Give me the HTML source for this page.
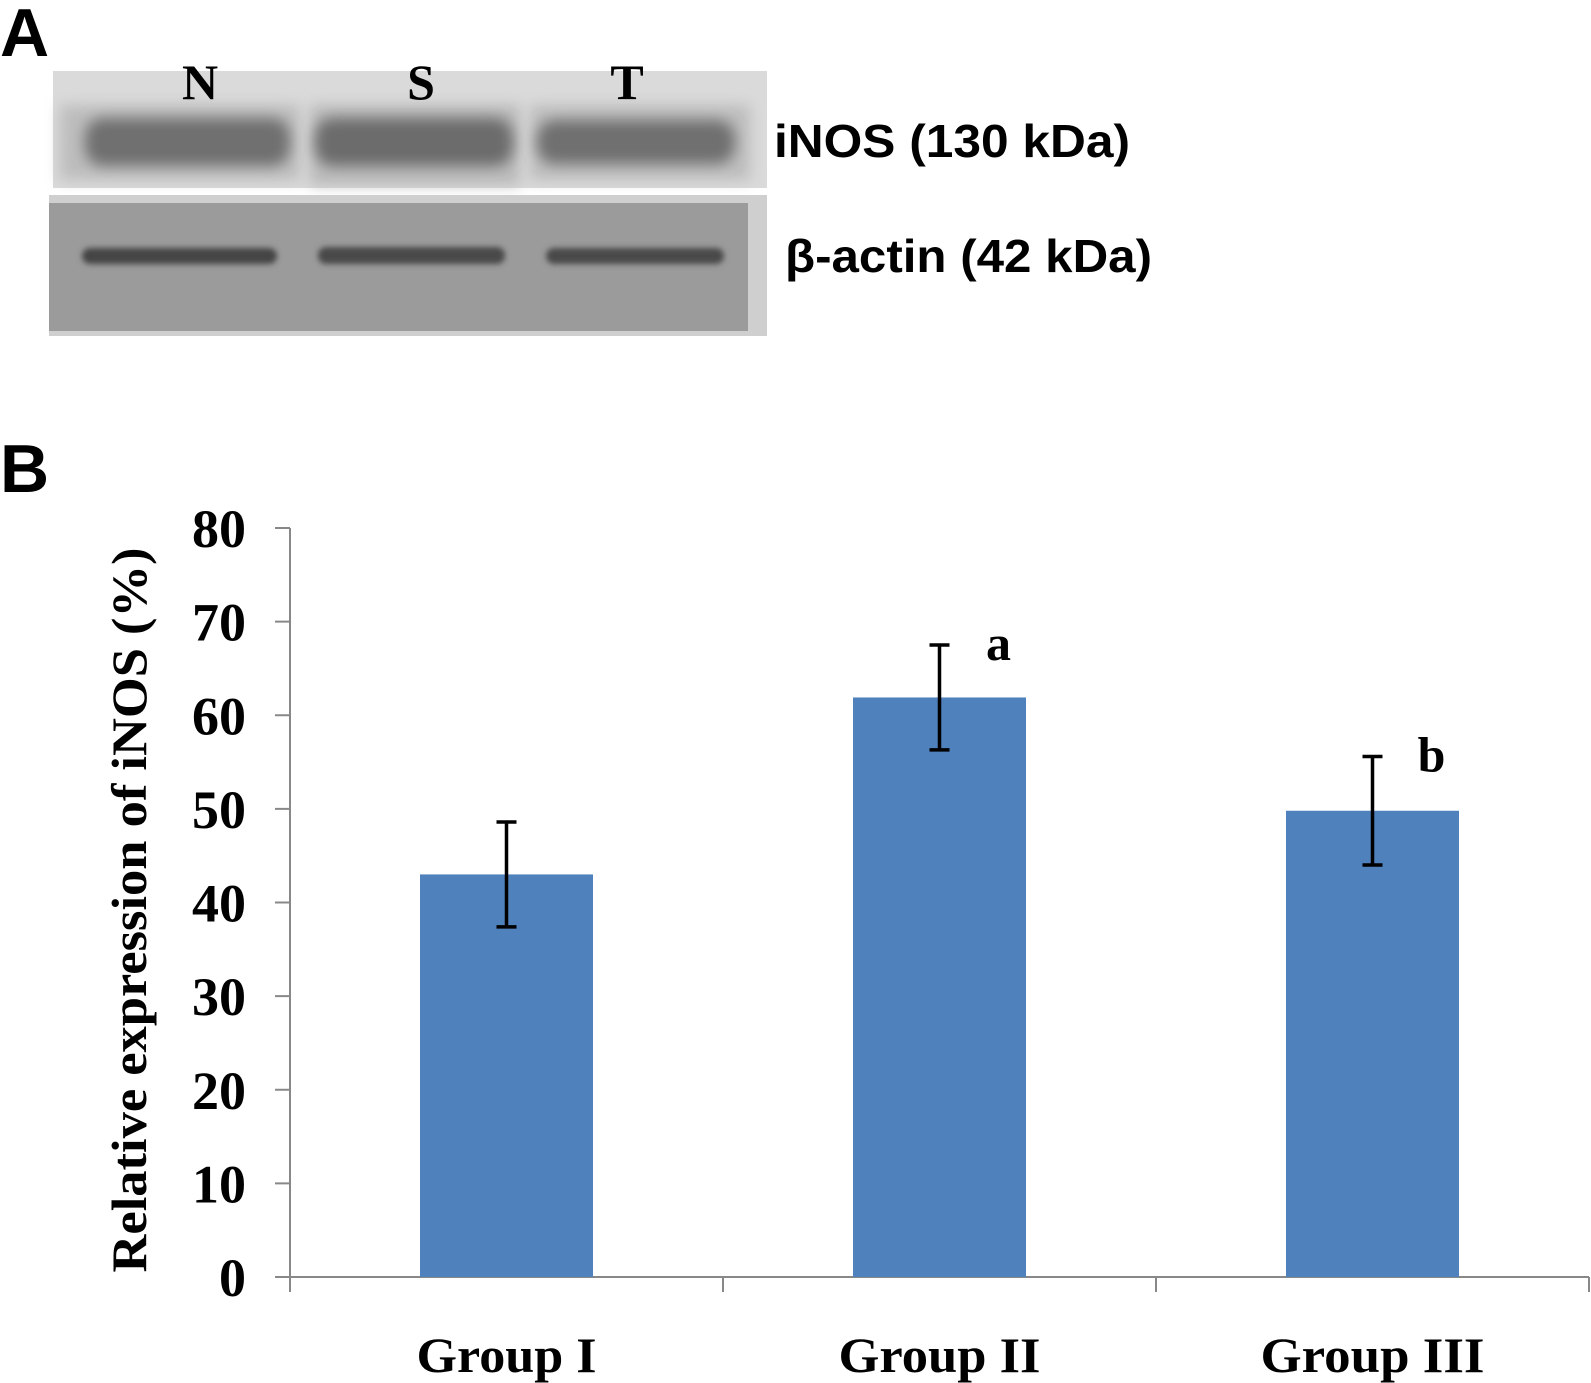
<!DOCTYPE html>
<html><head><meta charset="utf-8"><style>
html,body{margin:0;padding:0;background:#fff;}
svg{display:block;}
</style></head><body>
<svg id="fig" width="1591" height="1383" viewBox="0 0 1591 1383" xmlns="http://www.w3.org/2000/svg">
<defs>
<filter id="blur8" x="-20%" y="-50%" width="140%" height="200%"><feGaussianBlur stdDeviation="7"/></filter>
<filter id="blur3" x="-20%" y="-50%" width="140%" height="200%"><feGaussianBlur stdDeviation="3"/></filter>
</defs>
<text x="0" y="56" font-family="Liberation Sans, sans-serif" font-weight="bold" font-size="68">A</text>
<text x="0" y="492" font-family="Liberation Sans, sans-serif" font-weight="bold" font-size="68">B</text>

<g>
<rect x="53" y="71" width="714" height="117" fill="#dadada"/>
<rect x="60" y="105" width="240" height="75" fill="#bdbdbd" filter="url(#blur8)"/>
<rect x="310" y="105" width="210" height="80" fill="#bababa" filter="url(#blur8)"/>
<rect x="530" y="105" width="220" height="75" fill="#bdbdbd" filter="url(#blur8)"/>
<rect x="85" y="118" width="205" height="48" rx="18" fill="#6f6f6f" filter="url(#blur8)"/>
<rect x="315" y="118" width="198" height="48" rx="18" fill="#6c6c6c" filter="url(#blur8)"/>
<rect x="537" y="120" width="198" height="44" rx="18" fill="#6f6f6f" filter="url(#blur8)"/>
</g>
<g>
<rect x="49" y="195" width="718" height="141" fill="#cfcfcf"/>
<rect x="49" y="203" width="699" height="128" fill="#9b9b9b"/>
<rect x="82" y="248" width="195" height="16" rx="8" fill="#444" filter="url(#blur3)"/>
<rect x="318" y="247" width="187" height="17" rx="8" fill="#484848" filter="url(#blur3)"/>
<rect x="546" y="248" width="178" height="16" rx="8" fill="#484848" filter="url(#blur3)"/>
</g>
<g font-family="Liberation Serif, serif" font-weight="bold" font-size="50" text-anchor="middle">
<text x="200" y="99">N</text>
<text x="421" y="99">S</text>
<text x="627" y="99">T</text>
</g>
<text x="774" y="157" font-family="Liberation Sans, sans-serif" font-weight="bold" font-size="46" textLength="356" lengthAdjust="spacingAndGlyphs">iNOS (130 kDa)</text>
<text x="785" y="272" font-family="Liberation Sans, sans-serif" font-weight="bold" font-size="46" textLength="367" lengthAdjust="spacingAndGlyphs">β-actin (42 kDa)</text>

<g id="chart"></g>
</svg>
<script>
const categories = ["Group I", "Group II", "Group III"];
const values = [43, 61.9, 49.8];
const errors = [5.6, 5.6, 5.8];
const sigLetters = ["", "a", "b"];
const yTicks = [0, 10, 20, 30, 40, 50, 60, 70, 80];

const NS = "http://www.w3.org/2000/svg";
const g = document.getElementById("chart");
const x0 = 290, x1 = 1589, yBase = 1277, yTop = 528, yMax = 80;
const yScale = v => yBase - (v / yMax) * (yBase - yTop);
const band = (x1 - x0) / categories.length;
const xCenter = i => x0 + band * (i + 0.5);
const barW = 173;
function mk(tag, attrs, text) {
  const e = document.createElementNS(NS, tag);
  for (const k in attrs) e.setAttribute(k, attrs[k]);
  if (text !== undefined) e.textContent = text;
  g.appendChild(e);
  return e;
}
let e = mk("line", {x1: x0, y1: yTop, x2: x0, y2: yBase, stroke: "#888", "stroke-width": 2});


e = mk("line", {x1: x0, y1: yBase, x2: x1, y2: yBase, stroke: "#888", "stroke-width": 2});


yTicks.forEach(t => {
  const y = yScale(t);
  let tk = mk("line", {x1: x0 - 15, y1: y, x2: x0, y2: y, stroke: "#888", "stroke-width": 2});
  
  
  let lb = mk("text", {x: 246, y: y + 19, "text-anchor": "end", "font-family": "Liberation Serif, serif", "font-weight": "bold", "font-size": 54}, String(t));
  
  
});
for (let i = 0; i <= categories.length; i++) {
  const x = x0 + band * i;
  let tk = mk("line", {x1: x, y1: yBase, x2: x, y2: yBase + 15, stroke: "#888", "stroke-width": 2});
  
  
}
const catLen = [180, 202, 224];
categories.forEach((c, i) => {
  const cx = xCenter(i);
  const top = yScale(values[i]);
  let b = mk("rect", {x: cx - barW / 2, y: top, width: barW, height: yBase - top, fill: "#4f81bd"});
  
  
  const yh = yScale(values[i] + errors[i]), yl = yScale(values[i] - errors[i]);
  let eb = mk("path", {d: `M${cx} ${yh}V${yl}M${cx - 10} ${yh}H${cx + 10}M${cx - 10} ${yl}H${cx + 10}`, stroke: "#000", "stroke-width": 3.5, fill: "none"});
  
  
  if (sigLetters[i]) {
    let s = mk("text", {x: cx + 59, y: yh + 15, "text-anchor": "middle", "font-family": "Liberation Serif, serif", "font-weight": "bold", "font-size": 50}, sigLetters[i]);
    
    
  }
  let cl = mk("text", {x: cx, y: 1372, "text-anchor": "middle", "font-family": "Liberation Serif, serif", "font-weight": "bold", "font-size": 50, textLength: catLen[i], lengthAdjust: "spacingAndGlyphs"}, c);
  
  
});
let yt = mk("text", {x: 0, y: 0, transform: "translate(146,910) rotate(-90)", "text-anchor": "middle", "font-family": "Liberation Serif, serif", "font-weight": "bold", "font-size": 50, textLength: 725, lengthAdjust: "spacingAndGlyphs"}, "Relative expression of iNOS (%)");


</script>
</body></html>
